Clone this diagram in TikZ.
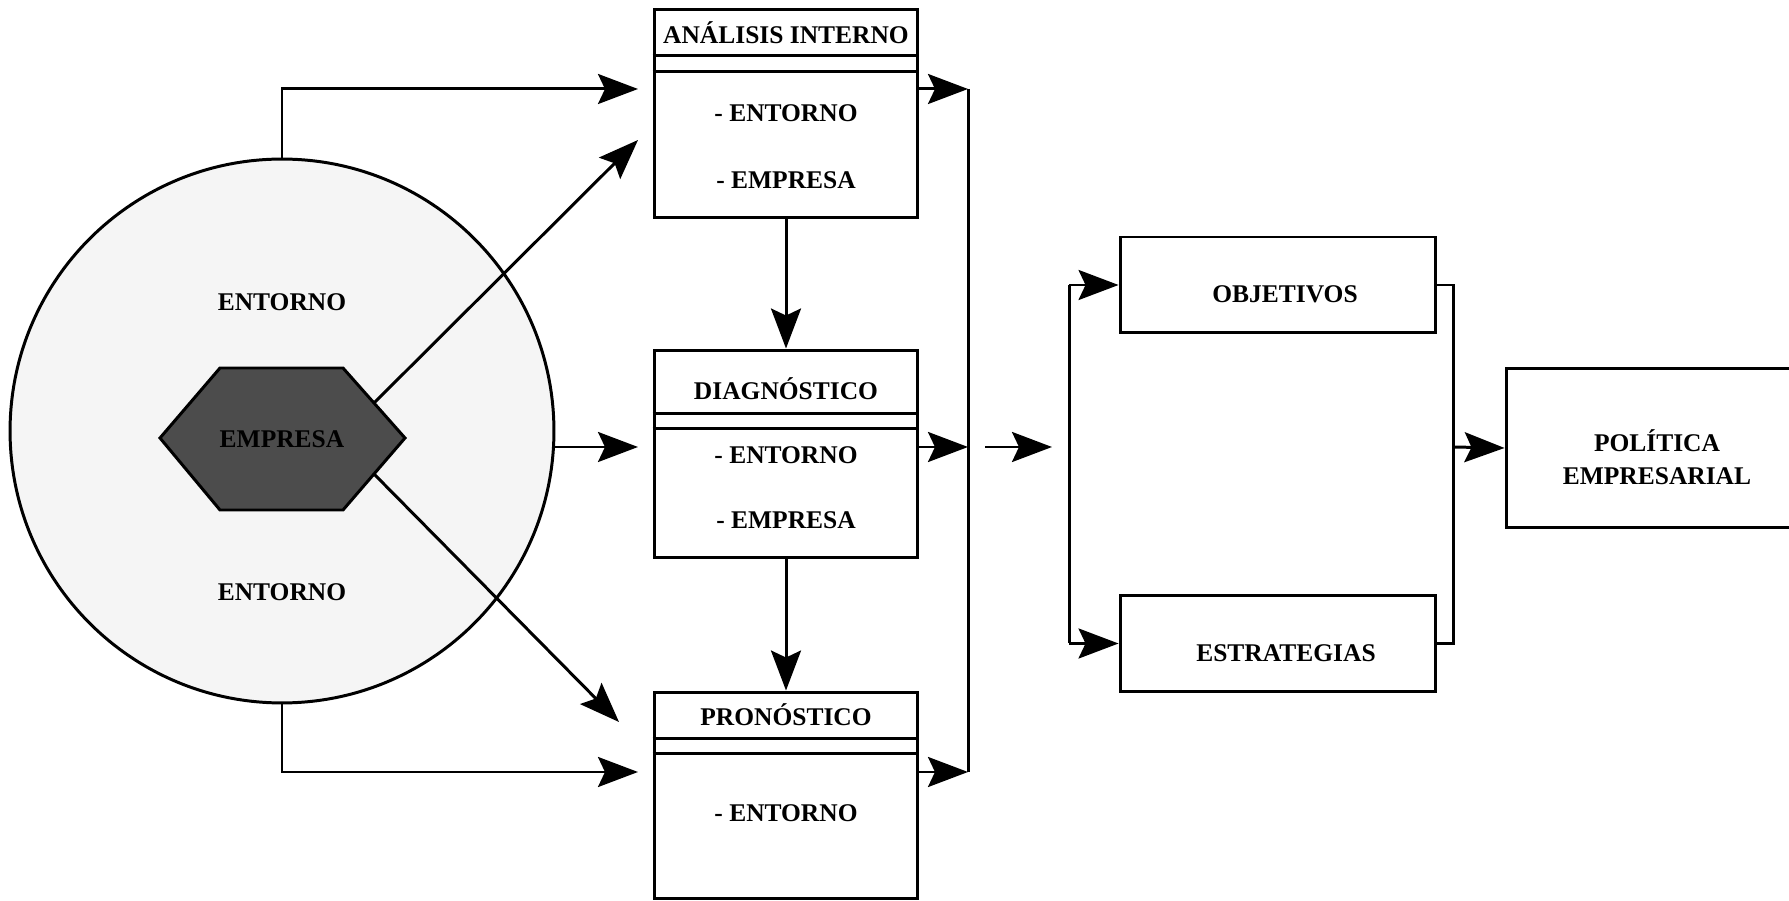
\documentclass[tikz,border=0pt]{standalone}
\usepackage{fontspec}
\setmainfont{Liberation Serif}
\usetikzlibrary{arrows.meta,positioning,calc}

\begin{document}
\begin{tikzpicture}[x=0.02cm,y=-0.02cm]
		\tikzstyle{box}=[draw,line width=1.7pt,minimum width=5.28cm,inner sep=0pt]
		\tikzstyle{lbl}=[font=\bfseries\fontsize{14.5}{18.5}\selectfont,inner sep=1pt]
		\tikzstyle{conn}=[line width=1.7pt]
		\tikzstyle{arr}=[line width=1.7pt,-{Stealth[length=0.8cm,width=0.6cm,inset=0.14cm]}]
		
		\useasboundingbox (0,0) rectangle (1789,901);
		
		% entorno y empresa
		\node[circle,draw,line width=1.7pt,fill=black!4,minimum size=10.88cm,inner sep=0pt] (cir) at (282,431) {};
		\coordinate (hw) at (160,438);
		\coordinate (hnw) at (220,368);
		\coordinate (hne) at (343,368);
		\coordinate (he) at (405,438);
		\coordinate (hse) at (343,510);
		\coordinate (hsw) at (220,510);
		\draw[line width=1.7pt,fill=black!70] (hw) -- (hnw) -- (hne) -- (he) -- (hse) -- (hsw) -- cycle;
		\node[lbl] (emp) at (282,439) {EMPRESA};
		\node[lbl] (ent1) at (282,302) {ENTORNO};
		\node[lbl] (ent2) at (282,592) {ENTORNO};
		
		% analisis, diagnostico, pronostico
		\node[box,minimum height=4.18cm] (ai) at (786,113.5) {};
		\draw[conn] ([yshift=-0.96cm]ai.north west) -- ([yshift=-0.96cm]ai.north east);
		\draw[conn] ([yshift=-1.28cm]ai.north west) -- ([yshift=-1.28cm]ai.north east);
		\node[lbl] (aiT) at (786,33) {ANÁLISIS INTERNO};
		\node[lbl] (aiA) at (786,113) {- ENTORNO};
		\node[lbl] (aiB) at (786,180) {- EMPRESA};
		
		\node[box,minimum height=4.16cm] (dg) at (786,454) {};
		\draw[conn] ([yshift=-1.3cm]dg.north west) -- ([yshift=-1.3cm]dg.north east);
		\draw[conn] ([yshift=-1.6cm]dg.north west) -- ([yshift=-1.6cm]dg.north east);
		\node[lbl] (dgT) at (786,389) {DIAGNÓSTICO};
		\node[lbl] (dgA) at (786,455) {- ENTORNO};
		\node[lbl] (dgB) at (786,520) {- EMPRESA};
		
		\node[box,minimum height=4.14cm] (pr) at (786,795.5) {};
		\draw[conn] ([yshift=-0.96cm]pr.north west) -- ([yshift=-0.96cm]pr.north east);
		\draw[conn] ([yshift=-1.26cm]pr.north west) -- ([yshift=-1.26cm]pr.north east);
		\node[lbl] (prT) at (786,715) {PRONÓSTICO};
		\node[lbl] (prA) at (786,813) {- ENTORNO};
		
		% objetivos, estrategias, politica
		\node[box,minimum width=6.32cm,minimum height=1.92cm] (ob) at (1278,285) {};
		\node[lbl] (obT) at (1285,294) {OBJETIVOS};
		\node[box,minimum width=6.32cm,minimum height=1.94cm] (es) at (1278,643.5) {};
		\node[lbl] (esT) at (1286,653) {ESTRATEGIAS};
		\node[box,minimum width=6.08cm,minimum height=3.2cm] (po) at (1658,448) {};
		\node[lbl,align=center] (poT) at (1657,457) {POLÍTICA\\EMPRESARIAL};
		
		% flechas de entrada
		\coordinate (aiIn) at (638,89);
		\coordinate (aiIn2) at (638,140);
		\coordinate (dgIn) at (638,447);
		\coordinate (prIn2) at (619,722);
		\coordinate (prIn) at (638,772);
		\coordinate (hUR) at ($(hne)!0.5!(he)$);
		\coordinate (hLR) at ($(he)!0.5!(hse)$);
		\draw[arr] (cir.north) |- (aiIn);
		\draw[arr] (hUR) -- (aiIn2);
		\draw[arr] (cir.east |- dgIn) -- (dgIn);
		\draw[arr] (hLR) -- (prIn2);
		\draw[arr] (cir.south) |- (prIn);
		
		\draw[arr] (ai.south) -- (dg.north);
		\draw[arr] (dg.south) -- (pr.north);
		
		% salidas
		\coordinate (b1) at (968,89);
		\coordinate (b2) at (968,447);
		\coordinate (b3) at (968,772);
		\draw[arr] (ai.east |- b1) -- (b1);
		\draw[arr] (dg.east |- b2) -- (b2);
		\draw[arr] (pr.east |- b3) -- (b3);
		\draw[conn] (b1) -- (b3);
		
		\coordinate (m1) at (985,447);
		\coordinate (m2) at (1052,447);
		\draw[arr] (m1) -- (m2);
		
		\coordinate (lbT) at (1069,285);
		\coordinate (lbB) at (1069,643.5);
		\draw[conn] (lbT) -- (lbB);
		\draw[arr] (lbT) -- (ob.west);
		\draw[arr] (lbB) -- (es.west);
		
		\coordinate (rb) at (1453,447);
		\draw[conn] (ob.east) -| (rb) |- (es.east);
		\draw[arr] (rb) -- (po.west);
\end{tikzpicture}
\end{document}
